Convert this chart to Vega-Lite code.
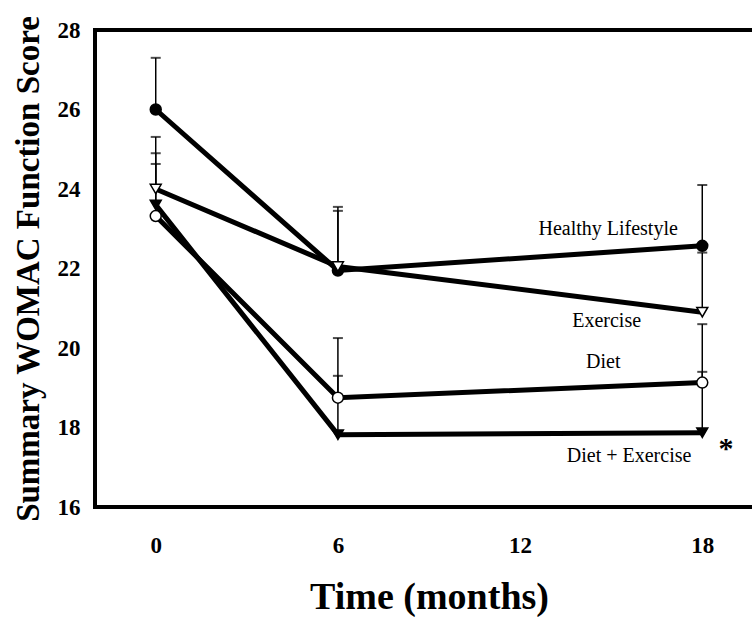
{
  "$schema": "https://vega.github.io/schema/vega-lite/v6.json",
  "autosize": {"type": "none"},
  "padding": {"left": 95, "top": 30, "right": 0, "bottom": 110},
  "width": 668,
  "height": 477,
  "background": "white",
  "config": {
    "view": {"stroke": "black", "strokeWidth": 4},
    "font": "Liberation Serif",
    "axis": {"grid": false, "domain": false, "ticks": false, "labelFont": "Liberation Serif", "titleFont": "Liberation Serif", "labelColor": "black", "titleColor": "black", "labelFontWeight": "bold", "titleFontWeight": "bold"}
  },
  "datasets": {
    "series": [
      {"group": "Healthy Lifestyle", "time": 0, "mean": 26.0, "upper": 27.3},
      {"group": "Healthy Lifestyle", "time": 6, "mean": 21.95, "upper": 23.45},
      {"group": "Healthy Lifestyle", "time": 18, "mean": 22.57, "upper": 24.1},
      {"group": "Exercise", "time": 0, "mean": 24.0, "upper": 25.31},
      {"group": "Exercise", "time": 6, "mean": 22.05, "upper": 23.55},
      {"group": "Exercise", "time": 18, "mean": 20.9, "upper": 22.4},
      {"group": "Diet", "time": 0, "mean": 23.32, "upper": 24.63},
      {"group": "Diet", "time": 6, "mean": 18.75, "upper": 20.25},
      {"group": "Diet", "time": 18, "mean": 19.13, "upper": 20.6},
      {"group": "Diet + Exercise", "time": 0, "mean": 23.6, "upper": 24.9},
      {"group": "Diet + Exercise", "time": 6, "mean": 17.82, "upper": 19.3},
      {"group": "Diet + Exercise", "time": 18, "mean": 17.87, "upper": 19.4}
    ],
    "labels": [
      {"text": "Healthy Lifestyle", "lx": 14.9, "ly": 23.0},
      {"text": "Exercise", "lx": 14.85, "ly": 20.69},
      {"text": "Diet", "lx": 14.74, "ly": 19.64},
      {"text": "Diet + Exercise", "lx": 15.59, "ly": 17.28}
    ],
    "star": [
      {"text": "*", "lx": 18.78, "ly": 17.45}
    ]
  },
  "layer": [
    {
      "data": {"name": "series"},
      "mark": {"type": "rule", "color": "black", "strokeWidth": 1.5},
      "encoding": {
        "x": {"field": "time", "type": "quantitative", "scale": {"domain": [-2, 20], "nice": false, "zero": false},
              "axis": {"values": [0, 6, 12, 18], "labelFontSize": 23, "labelPadding": 27, "title": "Time (months)", "titleFontSize": 38, "titlePadding": 21}},
        "y": {"field": "mean", "type": "quantitative", "scale": {"domain": [16, 28], "nice": false, "zero": false},
              "axis": {"values": [16, 18, 20, 22, 24, 26, 28], "labelFontSize": 23, "labelPadding": 15, "title": "Summary WOMAC Function Score", "titleFontSize": 33, "titlePadding": 12}},
        "y2": {"field": "upper"}
      }
    },
    {
      "data": {"name": "series"},
      "mark": {"type": "tick", "orient": "horizontal", "color": "black", "size": 10, "thickness": 2},
      "encoding": {
        "x": {"field": "time", "type": "quantitative"},
        "y": {"field": "upper", "type": "quantitative"}
      }
    },
    {
      "data": {"name": "series"},
      "mark": {"type": "line", "color": "black", "strokeWidth": 5},
      "encoding": {
        "x": {"field": "time", "type": "quantitative"},
        "y": {"field": "mean", "type": "quantitative"},
        "detail": {"field": "group"}
      }
    },
    {
      "data": {"name": "series"},
      "mark": {"type": "point", "filled": true, "stroke": "black", "strokeWidth": 1.5, "size": 120, "opacity": 1},
      "encoding": {
        "x": {"field": "time", "type": "quantitative"},
        "y": {"field": "mean", "type": "quantitative"},
        "shape": {"field": "group", "type": "nominal", "legend": null,
                  "scale": {"domain": ["Healthy Lifestyle", "Exercise", "Diet", "Diet + Exercise"], "range": ["circle", "triangle-down", "circle", "triangle-down"]}},
        "fill": {"field": "group", "type": "nominal", "legend": null,
                 "scale": {"domain": ["Healthy Lifestyle", "Exercise", "Diet", "Diet + Exercise"], "range": ["black", "white", "white", "black"]}}
      }
    },
    {
      "data": {"name": "labels"},
      "mark": {"type": "text", "font": "Liberation Serif", "fontSize": 20, "color": "black", "align": "center", "baseline": "middle"},
      "encoding": {
        "x": {"field": "lx", "type": "quantitative"},
        "y": {"field": "ly", "type": "quantitative"},
        "text": {"field": "text"}
      }
    },
    {
      "data": {"name": "star"},
      "mark": {"type": "text", "font": "Liberation Serif", "fontSize": 30, "fontWeight": "bold", "color": "black", "align": "center", "baseline": "middle"},
      "encoding": {
        "x": {"field": "lx", "type": "quantitative"},
        "y": {"field": "ly", "type": "quantitative"},
        "text": {"field": "text"}
      }
    }
  ]
}
